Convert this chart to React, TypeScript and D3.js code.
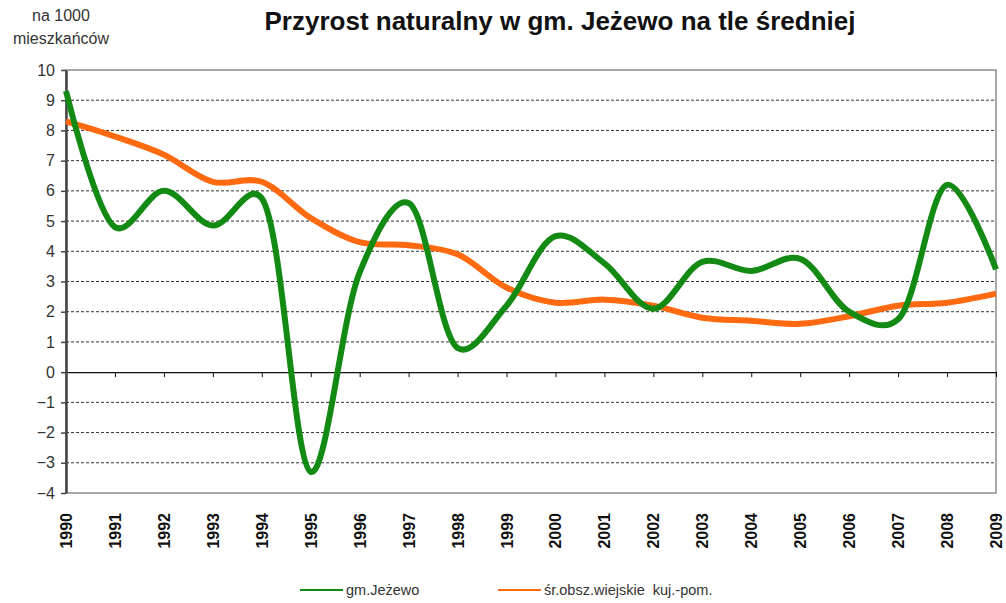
import React from "react";
import * as d3 from "d3";

const years = [1990, 1991, 1992, 1993, 1994, 1995, 1996, 1997, 1998, 1999, 2000, 2001, 2002, 2003, 2004, 2005, 2006, 2007, 2008, 2009];
const jezewo = [9.3, 4.8, 6.0, 4.85, 5.75, -3.3, 3.3, 5.6, 0.8, 2.2, 4.5, 3.6, 2.1, 3.65, 3.35, 3.75, 2.0, 1.75, 6.2, 3.4];
const srednia = [8.3, 7.8, 7.2, 6.3, 6.3, 5.1, 4.3, 4.2, 3.9, 2.8, 2.3, 2.4, 2.2, 1.8, 1.7, 1.6, 1.85, 2.2, 2.3, 2.6];
const yTicks = [-4, -3, -2, -1, 0, 1, 2, 3, 4, 5, 6, 7, 8, 9, 10];
const seriesNames = ["gm.Jeżewo", "śr.obsz.wiejskie  kuj.-pom."];

const App = () => {
  const svgRef = React.useRef<SVGSVGElement>(null);
  const width = 1006;
  const height = 603;
  const margin = { top: 70, right: 10, bottom: 110, left: 66 };

  React.useEffect(() => {
    const svgEl = d3.select(svgRef.current);
    svgEl.selectAll("*").remove();

    const xScale = d3
      .scaleLinear()
      .domain([years[0], years[years.length - 1]])
      .range([margin.left, 996]);

    const yScale = d3.scaleLinear().domain([-4, 10]).range([493, margin.top]);

    // title
    svgEl
      .append("text")
      .attr("x", 560)
      .attr("y", 30)
      .attr("text-anchor", "middle")
      .attr("font-family", "Liberation Sans, Arial, sans-serif")
      .attr("font-weight", "bold")
      .attr("font-size", 26)
      .attr("fill", "#111")
      .text("Przyrost naturalny w gm. Jeżewo na tle średniej");

    // unit label
    const unit = svgEl
      .append("text")
      .attr("text-anchor", "middle")
      .attr("font-family", "Liberation Sans, Arial, sans-serif")
      .attr("font-size", 16)
      .attr("fill", "#333");
    unit.append("tspan").attr("x", 61).attr("y", 21).text("na 1000");
    unit.append("tspan").attr("x", 61).attr("y", 44).text("mieszkańców");

    // grid lines
    svgEl
      .append("g")
      .selectAll("line")
      .data(yTicks.filter((d) => d !== 0 && d !== 10 && d !== -4))
      .join("line")
      .attr("x1", xScale.range()[0])
      .attr("x2", xScale.range()[1])
      .attr("y1", (d) => yScale(d))
      .attr("y2", (d) => yScale(d))
      .attr("stroke", "#333")
      .attr("stroke-width", 1)
      .attr("stroke-dasharray", "3,2");

    // plot border
    svgEl
      .append("rect")
      .attr("x", xScale.range()[0])
      .attr("y", yScale(10))
      .attr("width", xScale.range()[1] - xScale.range()[0])
      .attr("height", yScale(-4) - yScale(10))
      .attr("fill", "none")
      .attr("stroke", "#8c8c8c")
      .attr("stroke-width", 1.5);

    // zero axis with year ticks
    const xAxis = svgEl
      .append("g")
      .attr("transform", `translate(0,${yScale(0)})`)
      .call(
        d3
          .axisBottom(xScale)
          .tickValues(years)
          .tickSize(5)
          .tickSizeOuter(0)
          .tickFormat(() => "")
      );
    xAxis.select(".domain").attr("stroke", "#111").attr("stroke-width", 1.2);
    xAxis.selectAll(".tick line").attr("stroke", "#111");

    // year labels
    svgEl
      .append("g")
      .selectAll("text")
      .data(years)
      .join("text")
      .attr("transform", (d) => `translate(${xScale(d) + 6},513) rotate(-90)`)
      .attr("text-anchor", "end")
      .attr("font-family", "Liberation Sans, Arial, sans-serif")
      .attr("font-weight", "bold")
      .attr("font-size", 16)
      .attr("fill", "#111")
      .text((d) => d);

    // y axis
    const yAxis = svgEl
      .append("g")
      .attr("transform", `translate(${margin.left},0)`)
      .call(d3.axisLeft(yScale).tickValues(yTicks).tickSize(5).tickSizeOuter(0).tickPadding(6));
    yAxis.select(".domain").attr("stroke", "#444").attr("stroke-width", 2.5);
    yAxis.selectAll(".tick line").attr("stroke", "#444").attr("stroke-width", 1.5);
    yAxis
      .selectAll(".tick text")
      .attr("font-family", "Liberation Sans, Arial, sans-serif")
      .attr("font-size", 16)
      .attr("fill", "#333");

    const line = d3
      .line<number>()
      .x((d, i) => xScale(years[i]))
      .y((d) => yScale(d))
      .curve(d3.curveCatmullRom.alpha(0.25));

    svgEl
      .append("path")
      .datum(srednia)
      .attr("fill", "none")
      .attr("stroke", "#ff6a10")
      .attr("stroke-width", 6)
      .attr("d", line);

    svgEl
      .append("path")
      .datum(jezewo)
      .attr("fill", "none")
      .attr("stroke", "#138a13")
      .attr("stroke-width", 6)
      .attr("d", line);

    // legend
    const legendColors = ["#138a13", "#ff6a10"];
    const legendX = [300, 498];
    const legend = svgEl
      .append("g")
      .selectAll("g")
      .data(seriesNames)
      .join("g")
      .attr("transform", (d, i) => `translate(${legendX[i]},590)`);
    legend
      .append("line")
      .attr("x1", 0)
      .attr("x2", 43)
      .attr("stroke", (d, i) => legendColors[i])
      .attr("stroke-width", 2);
    legend
      .append("text")
      .attr("x", 46)
      .attr("y", 5)
      .attr("font-family", "Liberation Sans, Arial, sans-serif")
      .attr("font-size", 14.5)
      .attr("fill", "#333")
      .attr("xml:space", "preserve")
      .style("white-space", "pre")
      .text((d) => d);
  }, []);

  return (
    <svg
      ref={svgRef}
      width={width}
      height={height}
      style={{ position: "absolute", left: 0, top: 0, background: "#fff" }}
    />
  );
};

export default App;
